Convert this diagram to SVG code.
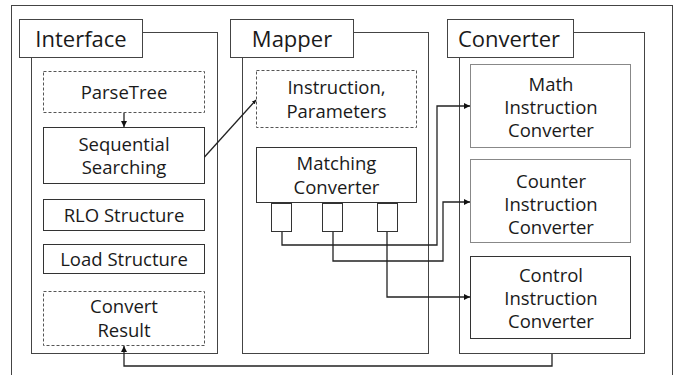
<svg xmlns="http://www.w3.org/2000/svg" width="680" height="375" viewBox="0 0 680 375">
<defs>
<style>
.t{font-family:"Open Sans","Noto Sans","Liberation Sans",sans-serif;fill:#1a1a1a;text-anchor:middle}
.title{font-size:22px}
.lbl{font-size:18.5px}
.panel{fill:#fff;stroke:#444;stroke-width:1}
.tbox{fill:#fff;stroke:#444;stroke-width:1}
.solid{fill:#fff;stroke:#333;stroke-width:1}
.dash{fill:#fff;stroke:#555;stroke-width:1;stroke-dasharray:3,2}
.light{fill:#fff;stroke:#888;stroke-width:1}
.port{fill:#fff;stroke:#333;stroke-width:1}
.conn{fill:none;stroke:#222;stroke-width:1.3}
</style>
<marker id="arr" viewBox="0 0 10 10" refX="10" refY="5" markerWidth="6" markerHeight="6" markerUnits="userSpaceOnUse" orient="auto">
<path d="M0,0 L10,5 L0,10 z" fill="#111"/>
</marker>
<marker id="sm" viewBox="0 0 10 10" refX="10" refY="5" markerWidth="4" markerHeight="4" markerUnits="userSpaceOnUse" orient="auto">
<path d="M0,0 L10,5 L0,10 z" fill="#111"/>
</marker>
</defs>
<rect width="680" height="375" fill="#fff"/>
<rect x="11.5" y="5.5" width="661" height="390" fill="none" stroke="#444" stroke-width="1"/>

<g id="interface">
<rect class="panel" x="31.5" y="32.5" width="186" height="321"/>
<rect class="tbox" x="19.5" y="19.5" width="123" height="38"/>
<text class="t title" x="81" y="47">Interface</text>
</g>
<g id="parsetree">
<rect class="dash" x="43.5" y="71.5" width="161" height="41"/>
<text class="t lbl" x="124" y="99">ParseTree</text>
</g>
<g id="sequential">
<rect class="solid" x="43.5" y="127.5" width="161" height="56"/>
<text class="t lbl" x="124" y="150.5">Sequential</text>
<text class="t lbl" x="124" y="174">Searching</text>
</g>
<g id="rlo">
<rect class="solid" x="43.5" y="199.5" width="161" height="31"/>
<text class="t lbl" x="124" y="221.5">RLO Structure</text>
</g>
<g id="load">
<rect class="solid" x="43.5" y="244.5" width="161" height="29"/>
<text class="t lbl" x="124" y="266">Load Structure</text>
</g>
<g id="convertresult">
<rect class="dash" x="43.5" y="291.5" width="161" height="54"/>
<text class="t lbl" x="124" y="313">Convert</text>
<text class="t lbl" x="124" y="337">Result</text>
</g>

<g id="mapper">
<rect class="panel" x="242.5" y="32.5" width="186" height="321"/>
<rect class="tbox" x="230.5" y="19.5" width="123" height="38"/>
<text class="t title" x="292" y="47">Mapper</text>
</g>
<g id="instruction">
<rect class="dash" x="256.5" y="70.5" width="160" height="57"/>
<text class="t lbl" x="336.5" y="94">Instruction,</text>
<text class="t lbl" x="336.5" y="118">Parameters</text>
</g>
<g id="matching">
<rect class="solid" x="256.5" y="147.5" width="160" height="55"/>
<text class="t lbl" x="336.5" y="170">Matching</text>
<text class="t lbl" x="336.5" y="194">Converter</text>
<rect class="port" x="271.5" y="203.5" width="20" height="28"/>
<rect class="port" x="322.5" y="203.5" width="20" height="28"/>
<rect class="port" x="377.5" y="203.5" width="20" height="28"/>
</g>

<g id="converter">
<rect class="panel" x="459.5" y="32.5" width="185" height="321"/>
<rect class="tbox" x="447.5" y="19.5" width="126" height="38"/>
<text class="t title" x="509" y="47">Converter</text>
</g>
<g id="math">
<rect class="light" x="470.5" y="64.5" width="160" height="83"/>
<text class="t lbl" x="551" y="91">Math</text>
<text class="t lbl" x="551" y="114">Instruction</text>
<text class="t lbl" x="551" y="137">Converter</text>
</g>
<g id="counter">
<rect class="light" x="470.5" y="159.5" width="160" height="83"/>
<text class="t lbl" x="551" y="188">Counter</text>
<text class="t lbl" x="551" y="211">Instruction</text>
<text class="t lbl" x="551" y="234">Converter</text>
</g>
<g id="control">
<rect class="solid" x="470.5" y="256.5" width="160" height="82"/>
<text class="t lbl" x="551" y="282">Control</text>
<text class="t lbl" x="551" y="305">Instruction</text>
<text class="t lbl" x="551" y="328">Converter</text>
</g>

<g id="connectors">
<path class="conn" d="M124,113 V127" marker-end="url(#arr)"/>
<path class="conn" d="M204.5,157 L256,100" marker-end="url(#sm)"/>
<path class="conn" d="M282,232 V245 H437 V106 H470" marker-end="url(#arr)"/>
<path class="conn" d="M333,232 V261 H443 V202 H470" marker-end="url(#arr)"/>
<path class="conn" d="M387,232 V297 H470" marker-end="url(#arr)"/>
<path class="conn" d="M552,354 V366 H124 V346" marker-end="url(#arr)"/>
</g>
</svg>
